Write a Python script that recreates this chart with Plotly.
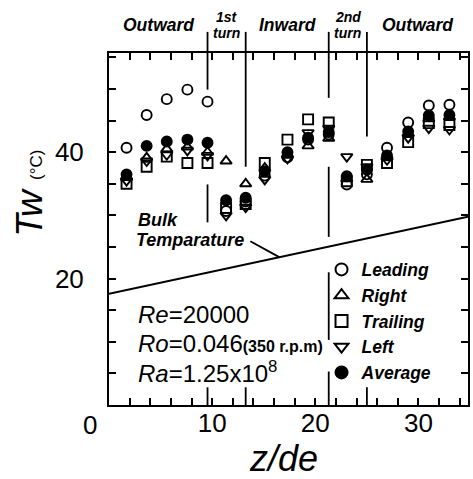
import plotly.graph_objects as go

# ---- data ----
z_de = [1.7, 3.65, 5.6, 7.6, 9.55, 11.35, 13.25, 15.1, 17.3, 19.3, 21.3, 23.05, 25.0, 26.95, 29.0, 31.0, 33.0]
leading = [40.7, 45.9, 48.4, 49.9, 48.0, 30.7, 32.2, 36.3, 39.2, 42.0, 42.8, 34.9, 36.5, 40.7, 44.7, 47.4, 47.5]
right = [36.0, 39.1, 40.5, 40.8, 40.0, 38.6, 35.0, 37.5, 39.5, 41.0, 42.2, 35.8, 35.7, 39.2, 43.0, 45.3, 45.6]
trailing = [35.0, 37.7, 39.3, 38.3, 38.3, 31.2, 31.8, 38.3, 42.0, 45.2, 44.7, 35.4, 38.0, 38.3, 41.6, 44.6, 44.3]
left = [35.5, 38.6, 39.6, 40.3, 39.5, 30.0, 31.3, 35.7, 39.0, 43.1, 43.8, 39.3, 37.7, 38.8, 42.3, 43.8, 43.6]
average = [36.5, 41.0, 41.7, 42.0, 41.5, 32.4, 32.8, 37.0, 40.0, 42.3, 43.2, 36.2, 37.2, 39.5, 43.3, 45.8, 45.9]

bulk_z = [0.0, 34.8]
bulk_t = [17.6, 29.8]

# section boundaries (1st turn, 2nd turn)
bounds = [9.55, 13.25, 21.3, 25.0]
x_range = [0, 34.8]
y_range = [0, 55.7]

x_tickvals = [10, 20, 30]
x_ticktext = ["10", "20", "30"]
y_tickvals = [20, 40]
y_ticktext = ["20", "40"]

FONT = "Liberation Sans"
BLK = "black"

fig = go.Figure()

series = [
    ("Leading", leading, "circle-open"),
    ("Right", right, "triangle-up-open"),
    ("Trailing", trailing, "square-open"),
    ("Left", left, "triangle-down-open"),
    ("Average", average, "circle"),
]
for name, vals, sym in series:
    fig.add_trace(go.Scatter(
        x=z_de, y=vals, mode="markers", name=name,
        marker=dict(symbol=sym, size=10, color=BLK, line=dict(color=BLK, width=1.9)),
        cliponaxis=False,
    ))

fig.add_trace(go.Scatter(x=bulk_z, y=bulk_t, mode="lines", line=dict(color=BLK, width=2),
                         showlegend=False, hoverinfo="skip"))

shapes = []
# vertical section lines: above plot (paper) and inside pieces (data)
segments = {
    9.55: [(55.7, 49.9), (34.9, 28.9), (2.8, 0)],
    13.25: [(55.7, 37.7), (2.8, 0)],
    21.3: [(55.7, 48.6), (37.7, 26.6), (21.0, 10.3), (5.3, 0)],
    25.0: [(55.7, 42.5), (2.8, 0)],
}
for b in bounds:
    shapes.append(dict(type="line", xref="x", yref="paper", x0=b, x1=b, y0=1, y1=1.06,
                       line=dict(color=BLK, width=1.8)))
    for (t0, t1) in segments[b]:
        shapes.append(dict(type="line", xref="x", yref="y", x0=b, x1=b, y0=t0, y1=t1,
                           line=dict(color=BLK, width=1.8)))
# pointer from label to bulk line
shapes.append(dict(type="line", xref="x", yref="y", x0=13.7, y0=25.9, x1=16.5, y1=23.4,
                   line=dict(color=BLK, width=1.8)))

ann = []
def A(text, x, y, size, xref="x", yref="y", xanchor="center", yanchor="middle",
      xshift=0, yshift=0, italic=False, bold=False, angle=0):
    ann.append(dict(text=text, x=x, y=y, xref=xref, yref=yref, xanchor=xanchor,
                    yanchor=yanchor, xshift=xshift, yshift=yshift, showarrow=False,
                    textangle=angle,
                    font=dict(family=FONT, size=size, color=BLK,
                              style="italic" if italic else "normal",
                              weight="bold" if bold else "normal")))

# top section labels
A("Outward", (0 + bounds[0]) / 2, 1, 17.5, yref="paper", yshift=28, italic=True, bold=True)
A("1st", (bounds[0] + bounds[1]) / 2, 1, 14, yref="paper", yshift=36, italic=True, bold=True)
A("turn", (bounds[0] + bounds[1]) / 2, 1, 14, yref="paper", yshift=20, italic=True, bold=True)
A("Inward", (bounds[1] + bounds[2]) / 2, 1, 17.5, yref="paper", yshift=28, italic=True, bold=True)
A("2nd", (bounds[2] + bounds[3]) / 2, 1, 14, yref="paper", yshift=36, italic=True, bold=True)
A("turn", (bounds[2] + bounds[3]) / 2, 1, 14, yref="paper", yshift=20, italic=True, bold=True)
A("Outward", (bounds[3] + x_range[1]) / 2, 1, 17.5, yref="paper", yshift=28, italic=True, bold=True)

# bulk label
A("Bulk", 2.6, 29.3, 18, xanchor="left", italic=True, bold=True)
A("Temparature", 2.45, 26.1, 18, xanchor="left", italic=True, bold=True)

# parameters
A("<i>Re</i>=20000", 2.65, 14.25, 24, xanchor="left")
A("<i>Ro</i>=0.046<span style='font-size:16px;font-weight:bold'>(350 r.p.m)</span>", 2.65, 9.8, 24, xanchor="left")
A("<i>Ra</i>=1.25x10<sup>8</sup>", 2.65, 5.3, 24, xanchor="left")

# origin label
A("0", 0, 0, 26, xshift=-19, yshift=-20)

# axis titles
A("<i>z/de</i>", 16.9, 0, 36, yref="paper", yshift=-53)
A("<i>Tw</i> <span style='font-size:17px'>(°C)</span>", 0, 0.6, 37, xref="paper", yref="paper",
  xshift=-79, angle=-90)

axis_common = dict(showgrid=False, zeroline=False, showline=True, linecolor=BLK, linewidth=2,
                   mirror="ticks", ticks="inside", ticklen=7, tickwidth=1.5, tickcolor=BLK,
                   tickfont=dict(family=FONT, size=26, color=BLK))

fig.update_layout(
    width=473, height=479,
    margin=dict(l=109, r=3, t=53, b=74),
    paper_bgcolor="white", plot_bgcolor="white",
    xaxis=dict(range=x_range, tickmode="array", tickvals=x_tickvals, ticktext=x_ticktext,
               ticklabelstandoff=-6,
               minor=dict(tick0=0, dtick=2, ticks="inside", ticklen=7, tickwidth=1.5, tickcolor=BLK),
               **axis_common),
    yaxis=dict(range=y_range, tickmode="array", tickvals=y_tickvals, ticktext=y_ticktext,
               ticklabelstandoff=18,
               minor=dict(tick0=0, dtick=5, ticks="inside", ticklen=7, tickwidth=1.5, tickcolor=BLK),
               **axis_common),
    shapes=shapes,
    annotations=ann,
    showlegend=True,
    legend=dict(x=0.592, y=0.436, xanchor="left", yanchor="top", bgcolor="rgba(0,0,0,0)",
                font=dict(family=FONT, size=17.5, color=BLK, style="italic", weight="bold"),
                tracegroupgap=0, itemsizing="constant"),
)

fig.write_html("out.html")
